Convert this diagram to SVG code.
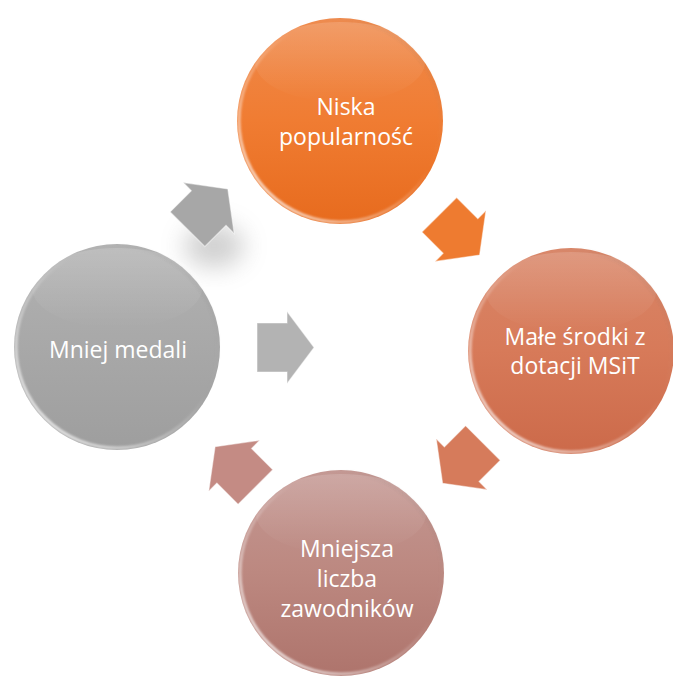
<svg xmlns="http://www.w3.org/2000/svg" width="673" height="681" viewBox="0 0 673 681">
  <defs>
    <style>
      .lbl { font-family: "Open Sans", "Liberation Sans", sans-serif; font-size: 23px; fill: #ffffff; text-anchor: middle; }
      .rim { fill: none; stroke-width: 3; }
      .arrow-edge { stroke: #ffffff; stroke-opacity: 0.45; stroke-width: 1.2; stroke-linejoin: miter; }
    </style>
    <linearGradient id="gOrange" x1="0" y1="0" x2="0" y2="1">
      <stop offset="0" stop-color="#EF8A4C"/>
      <stop offset="0.5" stop-color="#F07C32"/>
      <stop offset="1" stop-color="#E76B1E"/>
    </linearGradient>
    <linearGradient id="gSalmon" x1="0" y1="0" x2="0" y2="1">
      <stop offset="0" stop-color="#D98668"/>
      <stop offset="0.5" stop-color="#D77A59"/>
      <stop offset="1" stop-color="#CC6A4A"/>
    </linearGradient>
    <linearGradient id="gRose" x1="0" y1="0" x2="0" y2="1">
      <stop offset="0" stop-color="#C49893"/>
      <stop offset="0.5" stop-color="#BC8880"/>
      <stop offset="1" stop-color="#AE746C"/>
    </linearGradient>
    <linearGradient id="gGray" x1="0" y1="0" x2="0" y2="1">
      <stop offset="0" stop-color="#B2B2B2"/>
      <stop offset="0.5" stop-color="#A8A8A8"/>
      <stop offset="1" stop-color="#9E9E9E"/>
    </linearGradient>
    <!-- glossy rim: bright at lower left, fading toward upper right -->
    <linearGradient id="gRim" x1="0" y1="1" x2="1" y2="0">
      <stop offset="0" stop-color="#ffffff" stop-opacity="0.95"/>
      <stop offset="0.35" stop-color="#ffffff" stop-opacity="0.35"/>
      <stop offset="0.6" stop-color="#ffffff" stop-opacity="0"/>
      <stop offset="1" stop-color="#000000" stop-opacity="0.12"/>
    </linearGradient>
    <linearGradient id="gTopShine" x1="0" y1="0" x2="0" y2="1">
      <stop offset="0" stop-color="#ffffff" stop-opacity="0.16"/>
      <stop offset="1" stop-color="#ffffff" stop-opacity="0"/>
    </linearGradient>
    <filter id="soft" x="-50%" y="-50%" width="200%" height="200%">
      <feGaussianBlur stdDeviation="12"/>
    </filter>
    <filter id="softRim" x="-10%" y="-10%" width="120%" height="120%">
      <feGaussianBlur stdDeviation="0.8"/>
    </filter>
    <path id="arrowShape" d="M -30,-24.5 L 0,-24.5 L 0,-36 L 27,0 L 0,36 L 0,24.5 L -30,24.5 Z"/>
  </defs>

  <rect width="673" height="681" fill="#ffffff"/>

  <!-- connectors -->
  <g id="connectors">
    <ellipse cx="214" cy="246" rx="30" ry="22" fill="#7a7a7a" opacity="0.35" filter="url(#soft)"/>
    <g transform="translate(208.7,208) rotate(-45)">
      <use href="#arrowShape" fill="#A7A7A7" class="arrow-edge"/>
    </g>
    <g transform="translate(460.5,236) rotate(45)">
      <use href="#arrowShape" fill="#EE7B30" class="arrow-edge"/>
    </g>
    <g transform="translate(461.7,464.2) rotate(135)">
      <use href="#arrowShape" fill="#D67B5B" class="arrow-edge"/>
    </g>
    <g transform="translate(234.2,465.8) rotate(-135)">
      <use href="#arrowShape" fill="#C48B84" class="arrow-edge"/>
    </g>
    <g transform="translate(287,347.5)">
      <use href="#arrowShape" fill="#B3B3B3" class="arrow-edge"/>
    </g>
  </g>

  <!-- nodes -->
  <g id="node-popularnosc">
    <circle cx="340" cy="121" r="103" fill="url(#gOrange)"/>
    <ellipse cx="340" cy="62" rx="85" ry="40" fill="url(#gTopShine)"/>
    <circle cx="340" cy="121" r="101" class="rim" stroke="url(#gRim)" filter="url(#softRim)"/>
    <text class="lbl" x="346" y="115">Niska</text>
    <text class="lbl" x="346" y="145">popularność</text>
  </g>

  <g id="node-srodki">
    <circle cx="571" cy="351" r="103" fill="url(#gSalmon)"/>
    <ellipse cx="571" cy="292" rx="85" ry="40" fill="url(#gTopShine)"/>
    <circle cx="571" cy="351" r="101" class="rim" stroke="url(#gRim)" filter="url(#softRim)"/>
    <text class="lbl" x="575" y="345">Małe środki z</text>
    <text class="lbl" x="575" y="374">dotacji MSiT</text>
  </g>

  <g id="node-zawodnicy">
    <circle cx="341" cy="573" r="103" fill="url(#gRose)"/>
    <ellipse cx="341" cy="514" rx="85" ry="40" fill="url(#gTopShine)"/>
    <circle cx="341" cy="573" r="101" class="rim" stroke="url(#gRim)" filter="url(#softRim)"/>
    <text class="lbl" x="347" y="557">Mniejsza</text>
    <text class="lbl" x="347" y="587">liczba</text>
    <text class="lbl" x="347" y="617">zawodników</text>
  </g>

  <g id="node-medale">
    <circle cx="117" cy="347" r="103" fill="url(#gGray)"/>
    <ellipse cx="117" cy="288" rx="85" ry="40" fill="url(#gTopShine)"/>
    <circle cx="117" cy="347" r="101" class="rim" stroke="url(#gRim)" filter="url(#softRim)"/>
    <text class="lbl" x="118" y="358">Mniej medali</text>
  </g>
</svg>
